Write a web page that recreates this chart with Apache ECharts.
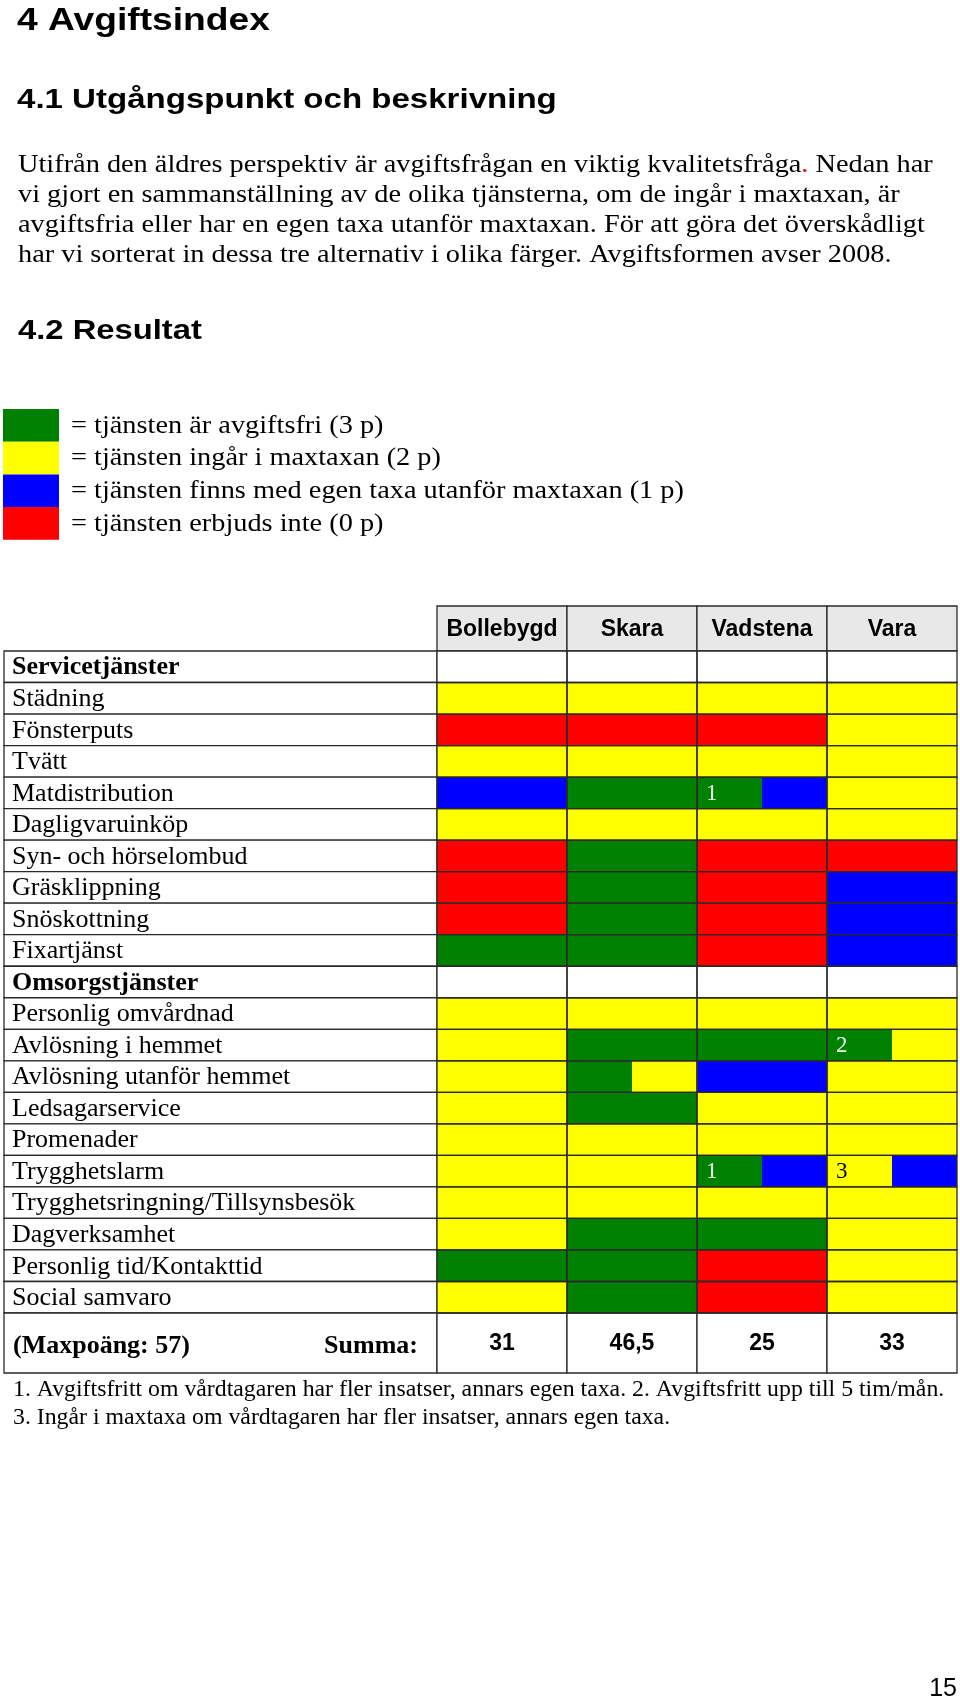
<!DOCTYPE html>
<html>
<head>
<meta charset="utf-8">
<script src="https://cdn.jsdelivr.net/npm/echarts@6/dist/echarts.min.js"></script>
<style>
html,body{margin:0;padding:0;background:#fff;}
#chart{width:960px;height:1701px;}
</style>
</head>
<body>
<div id="chart"></div>
<script>
// ---------- data ----------
const towns = ['Bollebygd', 'Skara', 'Vadstena', 'Vara'];
const rowLabels = [
  'Servicetjänster', 'Städning', 'Fönsterputs', 'Tvätt', 'Matdistribution',
  'Dagligvaruinköp', 'Syn- och hörselombud', 'Gräsklippning', 'Snöskottning', 'Fixartjänst',
  'Omsorgstjänster', 'Personlig omvårdnad', 'Avlösning i hemmet', 'Avlösning utanför hemmet',
  'Ledsagarservice', 'Promenader', 'Trygghetslarm', 'Trygghetsringning/Tillsynsbesök',
  'Dagverksamhet', 'Personlig tid/Kontakttid', 'Social samvaro'
];
const sectionRows = ['Servicetjänster', 'Omsorgstjänster'];
// points: 3 = avgiftsfri, 2 = maxtaxa, 1 = egen taxa, 0 = erbjuds inte; [a, b] = split cell
const bollebygd = [null, 2, 0, 2, 1, 2, 0, 0, 0, 3, null, 2, 2, 2, 2, 2, 2, 2, 2, 3, 2];
const skara     = [null, 2, 0, 2, 3, 2, 3, 3, 3, 3, null, 2, 3, [3, 2], 3, 2, 2, 2, 3, 3, 3];
const vadstena  = [null, 2, 0, 2, [3, 1], 2, 0, 0, 0, 0, null, 2, 3, 1, 2, 2, [3, 1], 2, 3, 0, 0];
const vara      = [null, 2, 2, 2, 2, 2, 0, 1, 1, 1, null, 2, [3, 2], 2, 2, 2, [2, 1], 2, 2, 2, 2];
// footnote marks: [town index, row index, mark]
const noteMarks = [[2, 4, '1'], [3, 12, '2'], [2, 16, '1'], [3, 16, '3']];
const sums = ['31', '46,5', '25', '33'];
const maxLabel = '(Maxpoäng: 57)';
const sumLabel = 'Summa:';
const keyLabels = [
  '= tjänsten är avgiftsfri (3 p)',
  '= tjänsten ingår i maxtaxan (2 p)',
  '= tjänsten finns med egen taxa utanför maxtaxan (1 p)',
  '= tjänsten erbjuds inte (0 p)'
];
const keyValues = [3, 2, 1, 0];
const keyColors = ['#008000', '#ffff00', '#0000ff', '#ff0000'];
const titleText = '4 Avgiftsindex';
const h41 = '4.1 Utgångspunkt och beskrivning';
const paragraph = [
  'Utifrån den äldres perspektiv är avgiftsfrågan en viktig kvalitetsfråga{r|.} Nedan har',
  'vi gjort en sammanställning av de olika tjänsterna, om de ingår i maxtaxan, är',
  'avgiftsfria eller har en egen taxa utanför maxtaxan. För att göra det överskådligt',
  'har vi sorterat in dessa tre alternativ i olika färger. Avgiftsformen avser 2008.'
];
const h42 = '4.2 Resultat';
const footnotes = [
  '1. Avgiftsfritt om vårdtagaren har fler insatser, annars egen taxa. 2. Avgiftsfritt upp till 5 tim/mån.',
  '3. Ingår i maxtaxa om vårdtagaren har fler insatser, annars egen taxa.'
];
const pageNumber = '15';

// ---------- build ----------
const townScores = [bollebygd, skara, vadstena, vara];
const scoreData = [];
townScores.forEach((arr, c) => {
  arr.forEach((v, r) => {
    if (v === null) return;
    if (Array.isArray(v)) {
      scoreData.push([c, r, 1, v[0]]);
      scoreData.push([c, r, 2, v[1]]);
    } else {
      scoreData.push([c, r, 0, v]);
    }
  });
});
const allCells = [];
towns.forEach((t, c) => rowLabels.forEach((l, r) => allCells.push([c, r])));

const SERIF = '"Liberation Serif", "Times New Roman", serif';
const SANS = '"Liberation Sans", Arial, sans-serif';
const LINE = '#2a2a2a';
const LW = 1.3;

function cellRect(api, c, r) {
  const p = api.coord([c, r]);
  const s = api.size([1, 1]);
  return { x: p[0] - s[0] / 2, y: p[1] - s[1] / 2, width: s[0], height: s[1] };
}

const chart = echarts.init(document.getElementById('chart'), null, { renderer: 'canvas' });

const graphics = [];
function addText(text, x, y, font, sx, opts) {
  graphics.push({
    type: 'text', x: x, y: y, scaleX: sx || 1,
    style: Object.assign({
      text: text, font: font, fill: '#000',
      align: 'left', verticalAlign: 'middle',
      textAlign: 'left', textVerticalAlign: 'middle'
    }, (opts || {}))
  });
}
const HEAD = 'bold {s}px ' + SANS;
addText(titleText, 17, 21, HEAD.replace('{s}', 31), 1.2);
addText(h41, 17, 100, HEAD.replace('{s}', 28), 1.18);
paragraph.forEach((line, i) => {
  addText(line, 18, 165 + i * 30, '25px ' + SERIF, 1.133, { rich: { r: { fill: '#d40000', font: '25px ' + SERIF } } });
});
addText(h42, 18, 331, HEAD.replace('{s}', 28), 1.17);
keyLabels.forEach((line, i) => addText(line, 71, 426 + i * 32.7, '25px ' + SERIF, 1.133));
footnotes.forEach((line, i) => addText(line, 13, 1390 + i * 28, '23.8px ' + SERIF));
addText(pageNumber, 957, 1689, '25px ' + SANS, 1, { align: 'right', textAlign: 'right' });

const option = {
  backgroundColor: '#fff',
  animation: false,
  grid: [
    { left: 437, top: 606, width: 520, height: 45 },
    { left: 4, top: 651, width: 433, height: 662 },
    { left: 437, top: 651, width: 520, height: 662 },
    { left: 4, top: 1313, width: 433, height: 60 },
    { left: 437, top: 1313, width: 520, height: 60 }
  ],
  xAxis: [
    { gridIndex: 0, type: 'category', data: towns, show: false },
    { gridIndex: 1, type: 'category', data: ['label'], show: false },
    { gridIndex: 2, type: 'category', data: towns, show: false },
    { gridIndex: 3, type: 'category', data: ['label'], show: false },
    { gridIndex: 4, type: 'category', data: towns, show: false }
  ],
  yAxis: [
    { gridIndex: 0, type: 'category', data: ['header'], show: false },
    { gridIndex: 1, type: 'category', data: rowLabels, inverse: true, show: false },
    { gridIndex: 2, type: 'category', data: rowLabels, inverse: true, show: false },
    { gridIndex: 3, type: 'category', data: ['sum'], show: false },
    { gridIndex: 4, type: 'category', data: ['sum'], show: false }
  ],
  visualMap: {
    type: 'piecewise',
    seriesIndex: 3,
    dimension: 3,
    orient: 'vertical',
    left: 3, top: 409,
    padding: 0,
    itemWidth: 56, itemHeight: 32.7, itemGap: 0,
    itemSymbol: 'rect',
    align: 'left',
    showLabel: false,
    selectedMode: false,
    hoverLink: false,
    pieces: keyValues.map((v, i) => ({ value: v, color: keyColors[i], label: keyLabels[i] })),
    textStyle: { color: '#000', fontFamily: SERIF, fontSize: 25 }
  },
  graphic: graphics,
  series: [
    { // 0 header
      type: 'custom', xAxisIndex: 0, yAxisIndex: 0,
      data: towns.map((t, i) => [i, 0]),
      renderItem: (params, api) => {
        const c = api.value(0);
        const rc = cellRect(api, c, 0);
        return { type: 'group', children: [
          { type: 'rect', shape: rc, style: { fill: '#e8e8e8', stroke: LINE, lineWidth: LW } },
          { type: 'text', x: rc.x + rc.width / 2, y: rc.y + rc.height / 2 + 1,
            style: { text: towns[c], font: 'bold 23px ' + SANS, fill: '#000',
              align: 'center', verticalAlign: 'middle', textAlign: 'center', textVerticalAlign: 'middle' } }
        ] };
      }
    },
    { // 1 row labels
      type: 'custom', xAxisIndex: 1, yAxisIndex: 1,
      data: rowLabels.map((l, i) => [0, i]),
      renderItem: (params, api) => {
        const r = api.value(1);
        const rc = cellRect(api, 0, r);
        const bold = sectionRows.indexOf(rowLabels[r]) >= 0;
        return { type: 'group', children: [
          { type: 'rect', shape: rc, style: { fill: '#fff', stroke: LINE, lineWidth: LW } },
          { type: 'text', x: rc.x + 8, y: rc.y + rc.height / 2 + 1,
            style: { text: rowLabels[r], font: (bold ? 'bold ' : '') + '26px ' + SERIF, fill: '#000',
              align: 'left', verticalAlign: 'middle', textAlign: 'left', textVerticalAlign: 'middle' } }
        ] };
      }
    },
    { // 2 base white cells
      type: 'custom', xAxisIndex: 2, yAxisIndex: 2,
      data: allCells,
      renderItem: (params, api) => ({ type: 'rect', shape: cellRect(api, api.value(0), api.value(1)), style: { fill: '#fff' } })
    },
    { // 3 coloured score cells (colour from visualMap)
      type: 'custom', xAxisIndex: 2, yAxisIndex: 2,
      dimensions: ['town', 'row', 'part', 'score'],
      encode: { x: 0, y: 1 },
      data: scoreData,
      renderItem: (params, api) => {
        const rc = cellRect(api, api.value(0), api.value(1));
        const part = api.value(2);
        let x = rc.x, w = rc.width;
        if (part === 1) { w = rc.width / 2; }
        if (part === 2) { x = rc.x + rc.width / 2; w = rc.width / 2; }
        return { type: 'rect', shape: { x: x, y: rc.y, width: w, height: rc.height }, style: { fill: api.visual('color') } };
      }
    },
    { // 4 cell borders
      type: 'custom', xAxisIndex: 2, yAxisIndex: 2, z: 5,
      data: allCells,
      renderItem: (params, api) => ({ type: 'rect', shape: cellRect(api, api.value(0), api.value(1)),
        style: { fill: 'none', stroke: LINE, lineWidth: LW } })
    },
    { // 5 footnote marks
      type: 'custom', xAxisIndex: 2, yAxisIndex: 2, z: 6,
      data: noteMarks,
      renderItem: (params, api) => {
        const c = api.value(0), r = api.value(1);
        const rc = cellRect(api, c, r);
        const v = townScores[c][r];
        const leftScore = Array.isArray(v) ? v[0] : v;
        return { type: 'text', x: rc.x + 9, y: rc.y + rc.height / 2 + 1,
          style: { text: noteMarks[params.dataIndex][2], font: '23px ' + SERIF,
            fill: leftScore === 3 ? '#eef7ee' : '#000',
            align: 'left', verticalAlign: 'middle', textAlign: 'left', textVerticalAlign: 'middle' } };
      }
    },
    { // 6 sum label
      type: 'custom', xAxisIndex: 3, yAxisIndex: 3,
      data: [[0, 0]],
      renderItem: (params, api) => {
        const rc = cellRect(api, 0, 0);
        return { type: 'group', children: [
          { type: 'rect', shape: rc, style: { fill: '#fff', stroke: LINE, lineWidth: LW } },
          { type: 'text', x: rc.x + 9, y: rc.y + rc.height / 2 + 3,
            style: { text: maxLabel, font: 'bold 26px ' + SERIF, fill: '#000',
              align: 'left', verticalAlign: 'middle', textAlign: 'left', textVerticalAlign: 'middle' } },
          { type: 'text', x: rc.x + rc.width - 19, y: rc.y + rc.height / 2 + 3,
            style: { text: sumLabel, font: 'bold 26px ' + SERIF, fill: '#000',
              align: 'right', verticalAlign: 'middle', textAlign: 'right', textVerticalAlign: 'middle' } }
        ] };
      }
    },
    { // 7 sums
      type: 'custom', xAxisIndex: 4, yAxisIndex: 4,
      data: sums.map((s, i) => [i, 0]),
      renderItem: (params, api) => {
        const c = api.value(0);
        const rc = cellRect(api, c, 0);
        return { type: 'group', children: [
          { type: 'rect', shape: rc, style: { fill: '#fff', stroke: LINE, lineWidth: LW } },
          { type: 'text', x: rc.x + rc.width / 2, y: rc.y + rc.height / 2 + 1,
            style: { text: sums[c], font: 'bold 23px ' + SANS, fill: '#000',
              align: 'center', verticalAlign: 'middle', textAlign: 'center', textVerticalAlign: 'middle' } }
        ] };
      }
    }
  ]
};
chart.setOption(option);
</script>
</body>
</html>
